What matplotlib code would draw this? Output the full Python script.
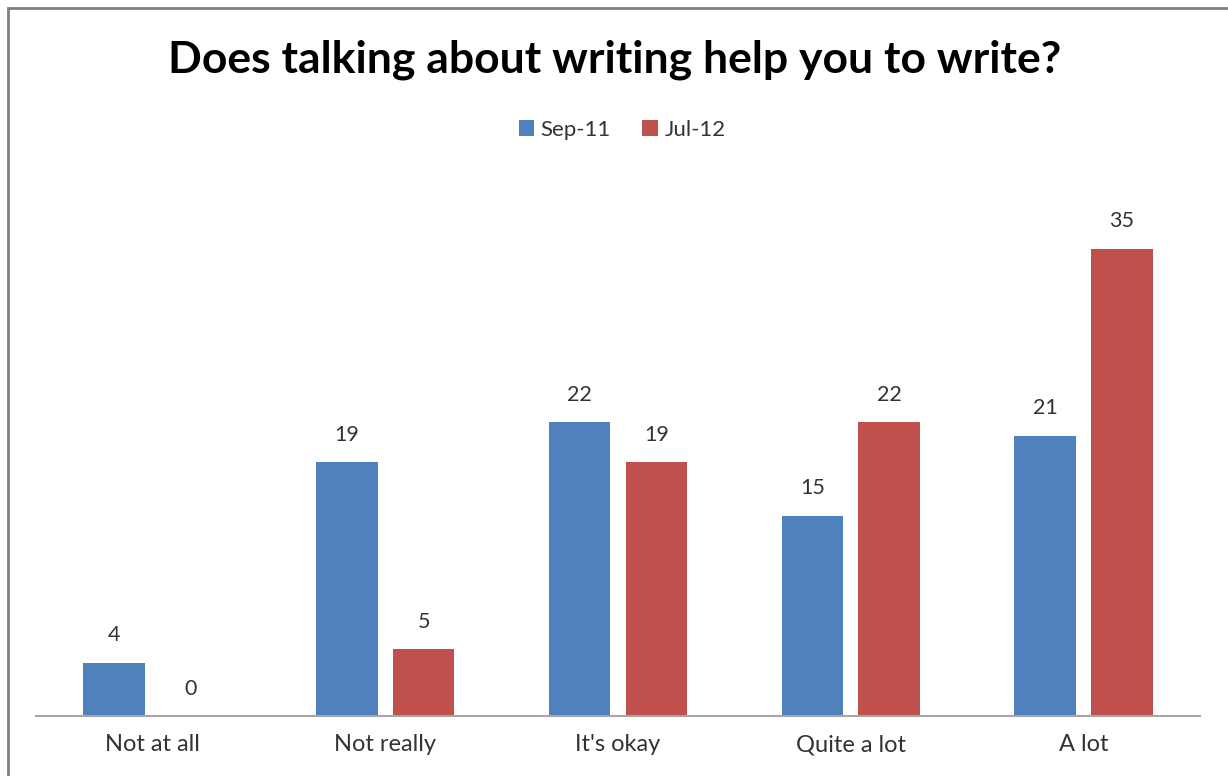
import matplotlib
matplotlib.use("Agg")
import matplotlib.pyplot as plt
import numpy as np
from matplotlib.patches import Rectangle

categories = ["Not at all", "Not really", "It's okay", "Quite a lot", "A lot"]
sep11 = [4, 19, 22, 15, 21]
jul12 = [0, 5, 19, 22, 35]
series_names = ["Sep-11", "Jul-12"]
colors = ["#4F81BD", "#C0504D"]

plt.rcParams['font.family'] = ['Lato', 'DejaVu Sans']

fig = plt.figure(figsize=(12.28, 7.76), dpi=100)
ax = fig.add_axes([36/1228, 60/776, 1164/1228, 534/776])

x = np.arange(len(categories))
w = 0.265
off = 0.165
b1 = ax.bar(x - off, sep11, w, color=colors[0], label=series_names[0])
b2 = ax.bar(x + off, jul12, w, color=colors[1], label=series_names[1])

for bars, vals in ((b1, sep11), (b2, jul12)):
    for r, v in zip(bars, vals):
        ax.text(r.get_x() + r.get_width()/2, v + 1.3, str(v), ha='center', va='bottom',
                fontsize=15.5, color='#333333')

ax.set_xlim(-0.5, 4.5)
ax.set_ylim(0, 40)
ax.set_xticks(x)
ax.set_xticklabels(categories, fontsize=17, color='#333333')
ax.tick_params(axis='x', length=0, pad=13)
ax.set_yticks([])
for s in ['top', 'right', 'left']:
    ax.spines[s].set_visible(False)
ax.spines['bottom'].set_color('#A6A6A6')
ax.spines['bottom'].set_linewidth(1.5)

fig.text(615/1228, 1 - 60/776, "Does talking about writing help you to write?", ha='center', va='center',
         fontsize=32, fontweight='bold', color='black')

leg = fig.legend(handles=[b1, b2], labels=series_names, loc='center', bbox_to_anchor=(622/1228, 1 - 130/776),
                 ncol=2, frameon=False, fontsize=16, handlelength=0.7, handleheight=0.7,
                 handletextpad=0.3, columnspacing=1.4)
for t in leg.get_texts():
    t.set_color('#333333')

# partial border (top and left visible)
fig.patches.append(Rectangle((8/1228, -0.1), 1.2, (1 - 8/776) + 0.1, transform=fig.transFigure,
                             fill=False, edgecolor='#808080', linewidth=2, figure=fig))

fig.savefig("out.png", dpi=100)
